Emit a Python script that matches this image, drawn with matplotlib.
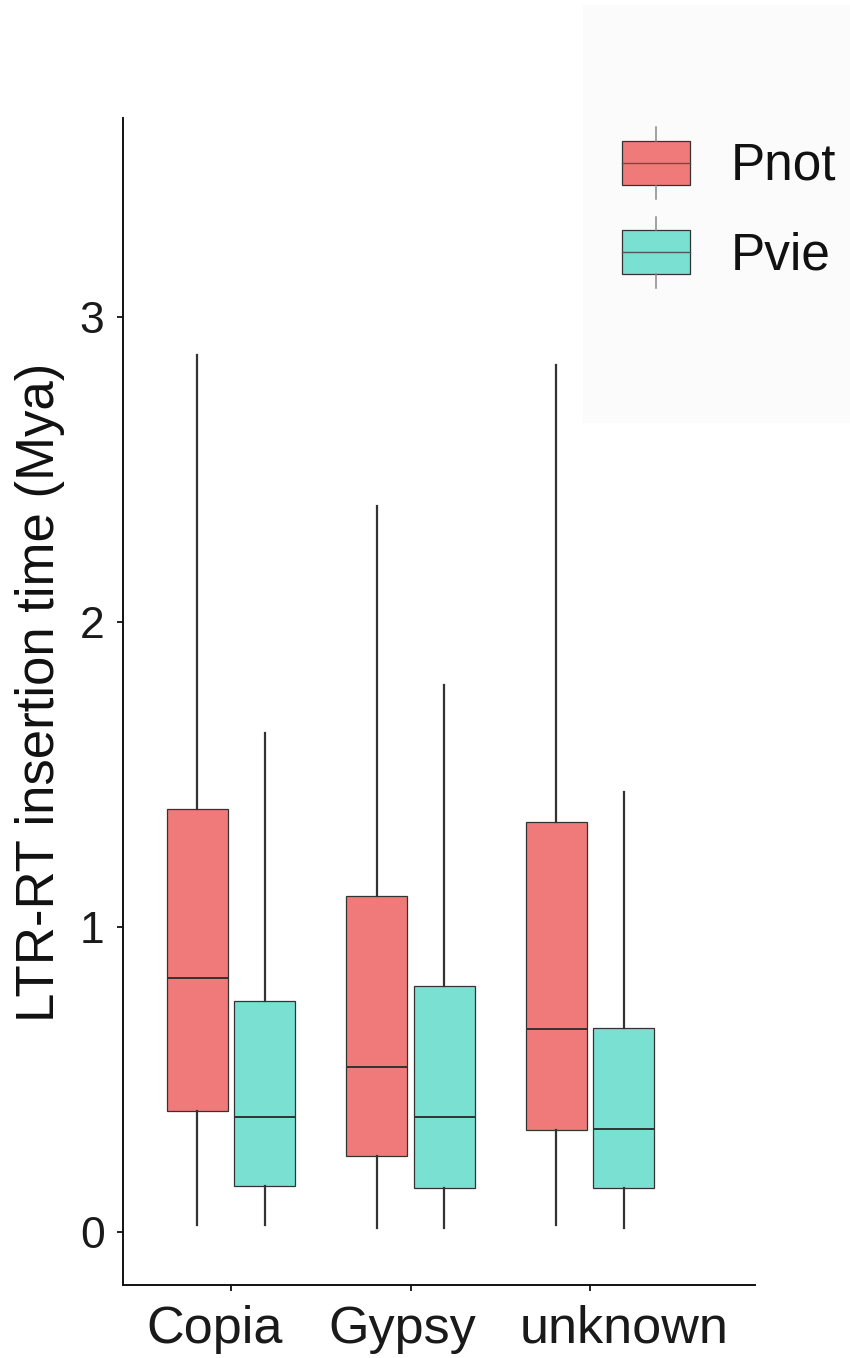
import matplotlib
matplotlib.use("Agg")
import matplotlib.pyplot as plt
import matplotlib.transforms as mtransforms
from matplotlib.patches import Rectangle
from matplotlib.lines import Line2D

plt.rcParams['font.family'] = ['Liberation Sans', 'DejaVu Sans']

# Retrotransposon superfamilies and the two species
categories = ["Copia", "Gypsy", "unknown"]
species = ["Pnot", "Pvie"]
colors = {"Pnot": "#F07A79", "Pvie": "#7AE0D2"}

# Box statistics per species (Mya), one value per superfamily
whislo = {"Pnot": [0.023, 0.013, 0.023], "Pvie": [0.023, 0.013, 0.013]}
q1 = {"Pnot": [0.397, 0.249, 0.334], "Pvie": [0.151, 0.144, 0.144]}
med = {"Pnot": [0.833, 0.541, 0.666], "Pvie": [0.377, 0.377, 0.338]}
q3 = {"Pnot": [1.387, 1.102, 1.344], "Pvie": [0.757, 0.807, 0.669]}
whishi = {"Pnot": [2.875, 2.380, 2.843], "Pvie": [1.636, 1.793, 1.443]}

yticks = [0, 1, 2, 3]

W, H = 850, 1358
fig = plt.figure(figsize=(W / 100, H / 100), dpi=100)


def fx(x):
    return x / W


def fy(y):
    return 1 - y / H


# Legend panel background (drawn first so the plot sits on top of it)
fig.add_artist(Rectangle((fx(583), fy(423)), 1 - fx(583), fy(5) - fy(423),
                         transform=fig.transFigure, facecolor="#fbfbfb",
                         edgecolor="none", zorder=0))

ax = fig.add_axes([fx(123), fy(1285), fx(755) - fx(123), fy(118) - fy(1285)])
ax.patch.set_alpha(0)

dark = "#333333"
offset = 0.187
width = 0.34
for k, sp in enumerate(species):
    sign = -1 if k == 0 else 1
    stats = []
    for i, cat in enumerate(categories):
        stats.append(dict(label=cat, whislo=whislo[sp][i], q1=q1[sp][i], med=med[sp][i],
                          q3=q3[sp][i], whishi=whishi[sp][i], fliers=[]))
    pos = [i + 1 + sign * offset for i in range(len(categories))]
    ax.bxp(stats, positions=pos, widths=width, patch_artist=True,
           showcaps=False, showfliers=False, manage_ticks=False,
           boxprops=dict(facecolor=colors[sp], edgecolor=dark, linewidth=0.9),
           medianprops=dict(color=dark, linewidth=1.4),
           whiskerprops=dict(color=dark, linewidth=1.6))

ax.set_xlim(0.398, 3.919)
ax.set_ylim(-0.174, 3.653)
ax.set_yticks(yticks)
ax.set_yticklabels([str(v) for v in yticks])
ax.set_xticks([1, 2, 3])
ax.set_xticklabels(categories)

for side in ("top", "right"):
    ax.spines[side].set_visible(False)
for side in ("left", "bottom"):
    ax.spines[side].set_linewidth(1.4)
    ax.spines[side].set_color("#111111")

ax.tick_params(axis="y", length=4.3, width=1.3, color="#111111", labelsize=32,
               labelcolor="#1a1a1a", pad=9)
ax.tick_params(axis="x", length=4.3, width=1.3, color="#111111", labelsize=37.5,
               labelcolor="#1a1a1a", pad=10)

# shift each category label horizontally
shifts_px = [-16.5, -8.5, 34]
for lab, dx in zip(ax.get_xticklabels(), shifts_px):
    lab.set_transform(lab.get_transform() +
                      mtransforms.ScaledTranslation(dx / 100, 0, fig.dpi_scale_trans))

ax.set_ylabel("LTR-RT insertion time (Mya)", fontsize=38, color="#111111")
ax.yaxis.set_label_coords((65 - 123) / 632, (1285 - 692) / 1167)

legend_rows = [("Pnot", 141, 185, 127, 199, 180), ("Pvie", 230, 274, 217, 288, 269)]
for sp, top, bot, wtop, wbot, base in legend_rows:
    xc = (622 + 690) / 2
    fig.add_artist(Line2D([fx(xc), fx(xc)], [fy(wtop), fy(top)], transform=fig.transFigure,
                          color="#888888", linewidth=1.1))
    fig.add_artist(Line2D([fx(xc), fx(xc)], [fy(bot), fy(wbot)], transform=fig.transFigure,
                          color="#888888", linewidth=1.1))
    fig.add_artist(Rectangle((fx(622), fy(bot)), fx(690) - fx(622), fy(top) - fy(bot),
                             transform=fig.transFigure, facecolor=colors[sp],
                             edgecolor=dark, linewidth=0.9))
    mid = (top + bot) / 2
    fig.add_artist(Line2D([fx(622), fx(690)], [fy(mid), fy(mid)], transform=fig.transFigure,
                          color="#555555", linewidth=1.0))
    fig.text(fx(731), fy(base), sp, fontsize=37, color="#111111", ha="left", va="baseline")

fig.savefig("out.png", dpi=100, facecolor="white")
